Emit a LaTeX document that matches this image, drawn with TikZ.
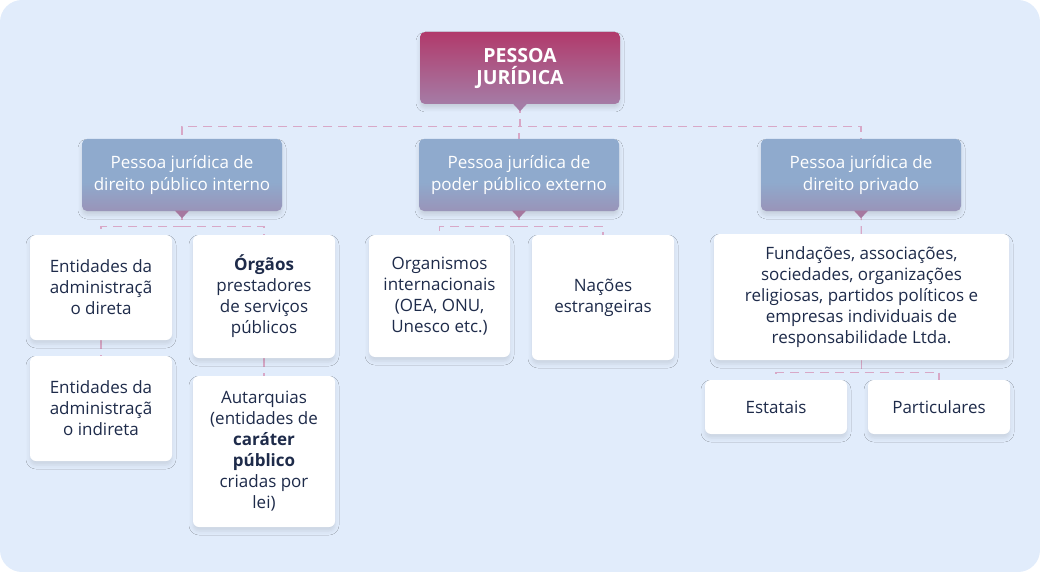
\documentclass[tikz,border=0pt]{standalone}
\usepackage{fontspec}
\setmainfont{Open Sans}
\usetikzlibrary{shadows.blur}
\definecolor{pagebg}{HTML}{E1ECFB}
\definecolor{ink}{HTML}{1E2B4A}
\definecolor{rootTop}{HTML}{B13A6B}
\definecolor{rootBot}{HTML}{A57CA6}
\definecolor{hdBlue}{HTML}{8FAACD}
\definecolor{hdMauve}{HTML}{A6789F}
\definecolor{cardGrey}{HTML}{E2E8F1}
\definecolor{linkc}{HTML}{D8A8C7}
\pgfdeclarelayer{bg}
\pgfsetlayers{bg,main}
\pgfdeclareverticalshading{headshade}{100bp}{color(0bp)=(hdMauve); color(45bp)=(hdBlue); color(100bp)=(hdBlue)}
\pgfdeclareverticalshading{cardshade}{100bp}{color(0bp)=(cardGrey); color(22bp)=(white); color(100bp)=(white)}
\tikzstyle{root} = [rectangle, rounded corners=5pt, minimum width=200pt, minimum height=72pt,
top color=rootTop, bottom color=rootBot, text=white, align=center,
font=\fontsize{19.5}{22}\selectfont\bfseries,
blur shadow={shadow xshift=0pt, shadow yshift=-4pt, shadow blur radius=4pt, shadow opacity=12}]
\tikzstyle{head} = [rectangle, rounded corners=5pt, minimum width=200pt, minimum height=72pt,
shading=headshade, text=white, align=center, font=\fontsize{17}{22}\selectfont,
blur shadow={shadow xshift=0pt, shadow yshift=-4pt, shadow blur radius=4pt, shadow opacity=12}]
\tikzstyle{card} = [rectangle, rounded corners=6pt, minimum width=142pt, shading=cardshade,
text=ink, align=center, font=\fontsize{17}{21}\selectfont, inner sep=0pt,
blur shadow={shadow xshift=0pt, shadow yshift=-4pt, shadow blur radius=4pt, shadow opacity=10}]
\tikzstyle{link} = [linkc, line width=1.3pt, dash pattern=on 9pt off 6pt]
\newcommand{\pointer}[2]{\fill[#2] (#1.south) ++(-7,-0.5) -- ++(7,7.5) -- ++(7,-7.5) -- cycle;}

\begin{document}
\begin{tikzpicture}[x=1pt,y=-1pt]
\useasboundingbox (0,0) rectangle (1040,572);
% top level
\node (pj) [root] at (520,68) {PESSOA\\JURÍDICA};
\pointer{pj}{rootBot}
% second level
\node (pint) [head] at (182,175) {Pessoa jurídica de\\direito público interno};
\node (pext) [head] at (519,175) {Pessoa jurídica de\\poder público externo};
\node (priv) [head] at (861,175) {Pessoa jurídica de\\direito privado};
\pointer{pint}{hdMauve}
\pointer{pext}{hdMauve}
\pointer{priv}{hdMauve}
% direito publico interno
\node (dir) [card, minimum height=105pt] at (101,287.5) {Entidades da\\administraçã\\o direta};
\node (ind) [card, minimum height=105pt] at (101,408.5) {Entidades da\\administraçã\\o indireta};
\node (org) [card, minimum height=123pt] at (264,296.5) {{\bfseries Órgãos}\\prestadores\\de serviços\\públicos};
\node (aut) [card, minimum height=151pt] at (264,451.5) {Autarquias\\(entidades de\\{\bfseries caráter}\\{\bfseries público}\\criadas por\\lei)};
% poder publico externo
\node (oi) [card, minimum width=141pt, minimum height=122pt] at (439.5,296) {Organismos\\internacionais\\(OEA, ONU,\\Unesco etc.)};
\node (ne) [card, minimum height=125pt] at (603,297.5) {Nações\\estrangeiras};
% direito privado
\node (fund) [card, minimum width=295pt, minimum height=126pt] at (861.5,297) {Fundações, associações,\\sociedades, organizações\\religiosas, partidos políticos e\\empresas individuais de\\responsabilidade Ltda.};
\node (est) [card, minimum height=54pt] at (776,407) {Estatais};
\node (part) [card, minimum height=54pt] at (939,407) {Particulares};
\begin{pgfonlayer}{bg}
\fill[pagebg, rounded corners=22pt] (0,0) rectangle (1040,572);
\draw [link] (pj.south) -- ++(0,22) -| (pint.north);
\draw [link] (pj.south) -- ++(0,22) -| (pext.north);
\draw [link] (pj.south) -- ++(0,22) -| (priv.north);
\draw [link] (pint.south) -- ++(0,15) -| (dir.north);
\draw [link] (pint.south) -- ++(0,15) -| (org.north);
\draw [link] (dir) -- (ind);
\draw [link] (org) -- (aut);
\draw [link] (pext.south) -- ++(0,15) -| (oi.north);
\draw [link] (pext.south) -- ++(0,15) -| (ne.north);
\draw [link] (priv) -- (fund);
\draw [link] (fund.south) -- ++(0,12) -| (est.north);
\draw [link] (fund.south) -- ++(0,12) -| (part.north);
\end{pgfonlayer}
\end{tikzpicture}
\end{document}
